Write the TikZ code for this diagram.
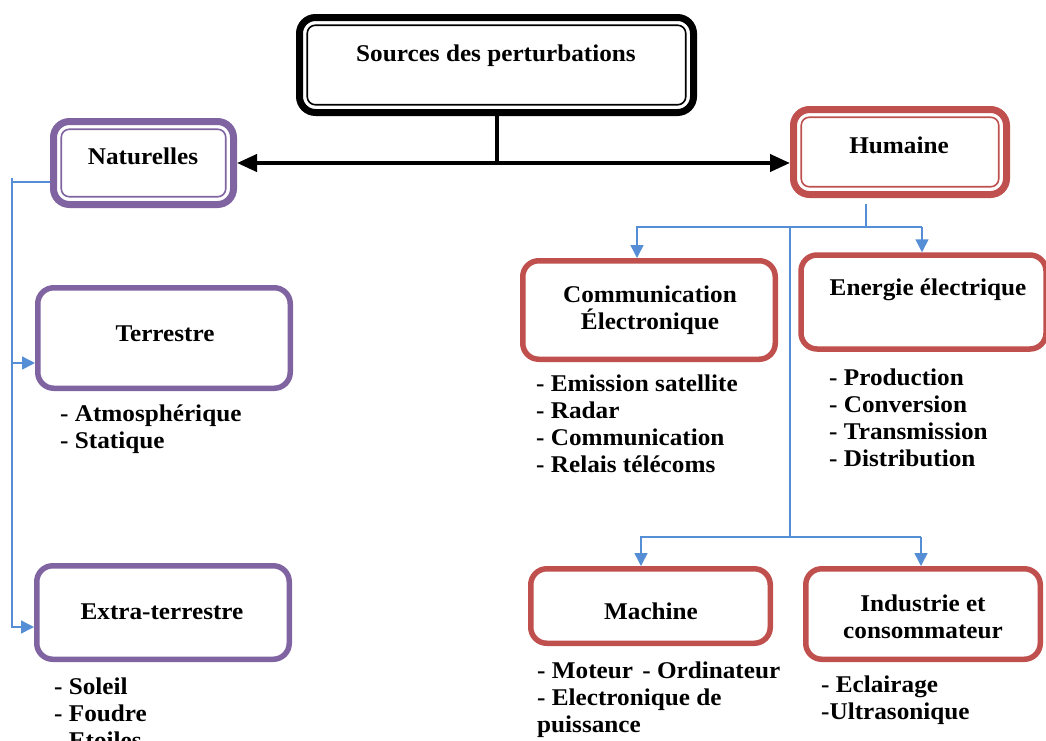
\documentclass[tikz,border=0pt]{standalone}
\usepackage{fontspec}
\setmainfont{Liberation Serif}[FakeStretch=1.05]
\usetikzlibrary{arrows.meta}
\definecolor{purp}{HTML}{8064A2}
\definecolor{redb}{HTML}{C0504D}
\definecolor{blueln}{HTML}{558ED5}
\tikzset{
  txt/.style={font=\fontsize{24}{27}\selectfont\bfseries, inner sep=0pt},
  title/.style={txt, text height=16pt, text depth=5pt},
  ttitle/.style={txt, align=center},
  itemlist/.style={txt, align=left, anchor=north west},
  box/.style={draw=#1, rounded corners=16pt, inner sep=0pt},
  dbox/.style={box=#1, line width=7pt},
  sbox/.style={box=#1, line width=5.5pt},
  innerbox/.style={draw=#1, line width=1.6pt, rounded corners=8pt},
  bl/.style={draw=blueln, line width=1.5pt},
  bla/.style={bl, -{Triangle[length=13pt,width=13pt]}},
  bigarrow/.style={line width=4pt, {Triangle[length=20pt,width=17pt]}-{Triangle[length=20pt,width=17pt]}}
}
\begin{document}
\begin{tikzpicture}[x=1pt,y=-1pt]
\useasboundingbox (0,0) rectangle (1046,740);
\clip (0,0) rectangle (1046,740);
\fill[white] (0,0) rectangle (1046,740);

% boxes
\node[dbox=black, minimum width=394pt, minimum height=95pt] (top) at (496.5,65) {};
\node[dbox=purp, minimum width=180pt, minimum height=83pt] (nat) at (143.5,163) {};
\node[dbox=redb, minimum width=213pt, minimum height=85pt] (hum) at (900,152) {};
\draw[innerbox=black] ([shift={(11.25pt,-11.25pt)}]top.north west) rectangle ([shift={(-11.25pt,11.25pt)}]top.south east);
\draw[innerbox=purp] ([shift={(11.25pt,-11.25pt)}]nat.north west) rectangle ([shift={(-11.25pt,11.25pt)}]nat.south east);
\draw[innerbox=redb] ([shift={(11.25pt,-11.25pt)}]hum.north west) rectangle ([shift={(-11.25pt,11.25pt)}]hum.south east);

\node[sbox=purp, minimum width=252.5pt, minimum height=100.5pt] (ter) at (164,338) {};
\node[sbox=purp, minimum width=252.5pt, minimum height=93.5pt] (ext) at (163,612.5) {};
\node[sbox=redb, minimum width=252.5pt, minimum height=98.5pt] (comm) at (649,310) {};
\node[sbox=redb, minimum width=245pt, minimum height=94pt] (ener) at (923.5,302) {};
\node[sbox=redb, minimum width=239.5pt, minimum height=74.5pt] (mach) at (650.5,606) {};
\node[sbox=redb, minimum width=234.5pt, minimum height=90.5pt] (ind) at (923,614) {};

% titles
\node[title] (topl) at (496,56) {Sources des perturbations};
\node[title] (natl) at (143,159) {Naturelles};
\node[title] (huml) at (899,148) {Humaine};
\node[title] (terl) at (165,335.5) {Terrestre};
\node[title] (extl) at (162,614) {Extra-terrestre};
\node[ttitle] (comml) at (650,310.5) {Communication\\Électronique};
\node[title] (enerl) at (928,290) {Energie électrique};
\node[title] (machl) at (651,614) {Machine};
\node[ttitle] (indl) at (923,617) {Industrie et\\consommateur};

% lists
\node[itemlist] (terlist) at (60,403.5) {\rule{0pt}{18pt}- Atmosphérique\\- Statique};
\node[itemlist] (extlist) at (54,676.5) {\rule{0pt}{18pt}- Soleil\\- Foudre\\- Etoiles};
\node[itemlist] (commlist) at (536,373.5) {\rule{0pt}{18pt}- Emission satellite\\- Radar\\- Communication\\- Relais télécoms};
\node[itemlist] (enerlist) at (829,367.5) {\rule{0pt}{18pt}- Production\\- Conversion\\- Transmission\\- Distribution};
\node[itemlist] (machlist) at (537,660.5) {\rule{0pt}{18pt}- Moteur\hspace{3pt} - Ordinateur\\- Electronique de\\puissance};
\node[itemlist] (indlist) at (821,674.5) {\rule{0pt}{18pt}- Eclairage\\-Ultrasonique};

% black connectors
\draw[line width=4pt] (top.south) -- (top.south |- nat.east);
\draw[bigarrow] (nat.east) -- (nat.east -| hum.west);

% blue connectors, left
\coordinate (l0) at (12,178);
\coordinate (l1) at (12,182);
\coordinate (l2) at (12,363);
\coordinate (l3) at (12,627);
\draw[bl] ([yshift=-19pt]nat.west) -- (l1);
\draw[bla] (l0) -- (l3) -- (l3 -| ext.west);
\draw[bla] (l2) -- (l2 -| ter.west);

% blue connectors, right
\coordinate (h0) at (866,204);
\coordinate (h1) at (866,227);
\coordinate (hl) at (637,227);
\coordinate (hr) at (922,227);
\coordinate (v0) at (790,227);
\coordinate (v1) at (790,537);
\coordinate (b0) at (641,537);
\coordinate (b1) at (921,537);
\draw[bl] (h0) -- (h1);
\draw[bla] (hr) -- (hl) -- (hl |- comm.north);
\draw[bla] (hr) -- (hr |- ener.north);
\draw[bl] (v0) -- (v1);
\draw[bla] (b1) -- (b0) -- (b0 |- mach.north);
\draw[bla] (b1) -- (b1 |- ind.north);
\end{tikzpicture}
\end{document}
